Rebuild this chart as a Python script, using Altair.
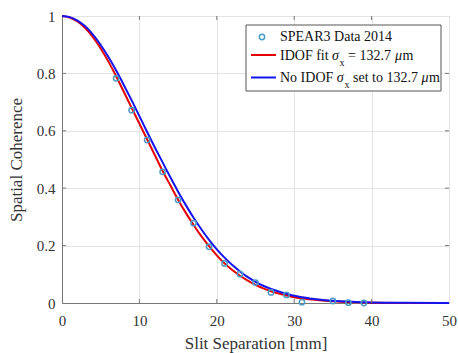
import altair as alt
import pandas as pd

# ---- data ----
line_x = [0, 1, 2, 3, 4, 5, 6, 7, 8, 9, 10, 11, 12, 13, 14, 15, 16, 17, 18, 19, 20,
          21, 22, 23, 24, 25, 26, 27, 28, 29, 30, 32, 34, 36, 38, 40, 44, 50]
idof_fit = [1.0, 0.995, 0.981, 0.958, 0.926, 0.887, 0.841, 0.790, 0.735, 0.680, 0.625,
            0.570, 0.515, 0.460, 0.410, 0.360, 0.314, 0.272, 0.233, 0.198, 0.166,
            0.138, 0.115, 0.095, 0.078, 0.063, 0.051, 0.041, 0.033, 0.026, 0.020,
            0.013, 0.008, 0.0045, 0.0025, 0.001, 0.0002, 0.0]
no_idof = [1.0, 0.996, 0.984, 0.964, 0.935, 0.899, 0.857, 0.810, 0.759, 0.706, 0.651,
           0.596, 0.542, 0.490, 0.438, 0.388, 0.341, 0.297, 0.257, 0.220, 0.187,
           0.158, 0.132, 0.110, 0.090, 0.074, 0.060, 0.049, 0.040, 0.032, 0.025,
           0.016, 0.010, 0.006, 0.0035, 0.002, 0.0006, 0.0]

data_x = [7, 9, 11, 13, 15, 17, 19, 21, 23, 25, 27, 29, 31, 35, 37, 39]
data_y = [0.783, 0.672, 0.568, 0.457, 0.359, 0.278, 0.196, 0.138, 0.101, 0.071,
          0.037, 0.028, 0.003, 0.007, 0.001, 0.0]

x_ticks = [0, 10, 20, 30, 40, 50]
y_ticks = [0, 0.2, 0.4, 0.6, 0.8, 1.0]
x_inner = [10, 20, 30, 40]
y_inner = [0.2, 0.4, 0.6, 0.8]

W, H = 387, 287
FONT = "Liberation Serif"
RED = "#e50000"
BLUE = "#1414f0"
PT = "#4a9cc6"
TXT = "#333333"

lines_df = pd.DataFrame({"x": line_x, "fit": idof_fit, "noidof": no_idof})
pts_df = pd.DataFrame({"x": data_x, "y": data_y})
xin_df = pd.DataFrame({"t": x_inner})
yin_df = pd.DataFrame({"t": y_inner})

xs = alt.Scale(domain=[0, 50], nice=False, zero=False)
ys = alt.Scale(domain=[0, 1], nice=False, zero=False)

xaxis = alt.Axis(values=x_ticks, title="Slit Separation [mm]", grid=True,
                 gridColor="#e4e4e4", domainColor="#777777", tickSize=0,
                 labelPadding=10, labelFont=FONT, labelFontSize=15, labelColor=TXT,
                 labelFlush=False, labelOverlap=False, titleFont=FONT,
                 titleFontSize=17, titleFontWeight="normal", titleColor=TXT,
                 titlePadding=7)
yaxis = alt.Axis(values=y_ticks, title="Spatial Coherence", format=".2~f", grid=True,
                 gridColor="#e4e4e4", domainColor="#777777", tickSize=0,
                 labelPadding=7, labelFont=FONT, labelFontSize=15, labelColor=TXT,
                 labelFlush=False, labelOverlap=False, titleFont=FONT,
                 titleFontSize=17, titleFontWeight="normal", titleColor=TXT,
                 titlePadding=11)

base = alt.Chart(lines_df)
red = base.mark_line(color=RED, strokeWidth=2, interpolate="monotone").encode(
    x=alt.X("x:Q", scale=xs, axis=xaxis), y=alt.Y("fit:Q", scale=ys, axis=yaxis))
blue = base.mark_line(color=BLUE, strokeWidth=2, interpolate="monotone").encode(
    x=alt.X("x:Q", scale=xs), y=alt.Y("noidof:Q", scale=ys))
pts = alt.Chart(pts_df).mark_point(shape="circle", filled=False, color=PT,
                                   strokeWidth=1.5, size=28, opacity=1).encode(
    x=alt.X("x:Q", scale=xs), y=alt.Y("y:Q", scale=ys))

tick_c = "#777777"
tb = alt.Chart(xin_df).mark_rule(color=tick_c).encode(
    x=alt.X("t:Q", scale=xs), y=alt.value(H), y2=alt.value(H - 4))
tt = alt.Chart(xin_df).mark_rule(color=tick_c).encode(
    x=alt.X("t:Q", scale=xs), y=alt.value(0), y2=alt.value(4))
tl = alt.Chart(yin_df).mark_rule(color=tick_c).encode(
    y=alt.Y("t:Q", scale=ys), x=alt.value(0), x2=alt.value(4))
tr = alt.Chart(yin_df).mark_rule(color=tick_c).encode(
    y=alt.Y("t:Q", scale=ys), x=alt.value(W), x2=alt.value(W - 4))

# ---- legend (drawn by hand) ----
one = pd.DataFrame({"a": [0]})
lg = alt.Chart(one)
box = lg.mark_rect(fill="white", stroke="#555555", strokeWidth=1).encode(
    x=alt.value(184), x2=alt.value(379), y=alt.value(9), y2=alt.value(75))
lpt = lg.mark_point(shape="circle", filled=False, color=PT, strokeWidth=1.5,
                    size=28, opacity=1).encode(x=alt.value(200), y=alt.value(21))
lred = lg.mark_rule(color=RED, strokeWidth=2).encode(
    x=alt.value(189), x2=alt.value(214), y=alt.value(39))
lblue = lg.mark_rule(color=BLUE, strokeWidth=2).encode(
    x=alt.value(189), x2=alt.value(214), y=alt.value(61.5))


def txt(s, x, y, size=14, style="normal"):
    return lg.mark_text(text=s, font=FONT, fontSize=size, fontStyle=style,
                        align="left", baseline="alphabetic", color="#111111").encode(
        x=alt.value(x), y=alt.value(y))


legend_parts = [
    txt("SPEAR3 Data 2014", 218, 24.5),
    txt("IDOF fit", 218, 44),
    txt("σ", 270, 44, style="italic"),
    txt("x", 277.5, 50, size=10),
    txt("= 132.7", 286, 44),
    txt("μ", 333, 44, style="italic"),
    txt("m", 340.5, 44),
    txt("No IDOF", 218, 66),
    txt("σ", 274.8, 66, style="italic"),
    txt("x", 282.5, 72, size=10),
    txt("set to 132.7", 291, 66),
    txt("μ", 359.5, 66, style="italic"),
    txt("m", 367, 66),
]

chart = alt.layer(red, blue, pts, tb, tt, tl, tr, box, lpt, lred, lblue,
                  *legend_parts).properties(
    width=W, height=H,
    autosize=alt.AutoSizeParams(type="none"),
    padding={"left": 62, "top": 16, "right": 9, "bottom": 50},
    background="white",
).configure_view(stroke="#777777", strokeWidth=1)

chart.save("out.html", embed_options={"renderer": "svg", "actions": False})
